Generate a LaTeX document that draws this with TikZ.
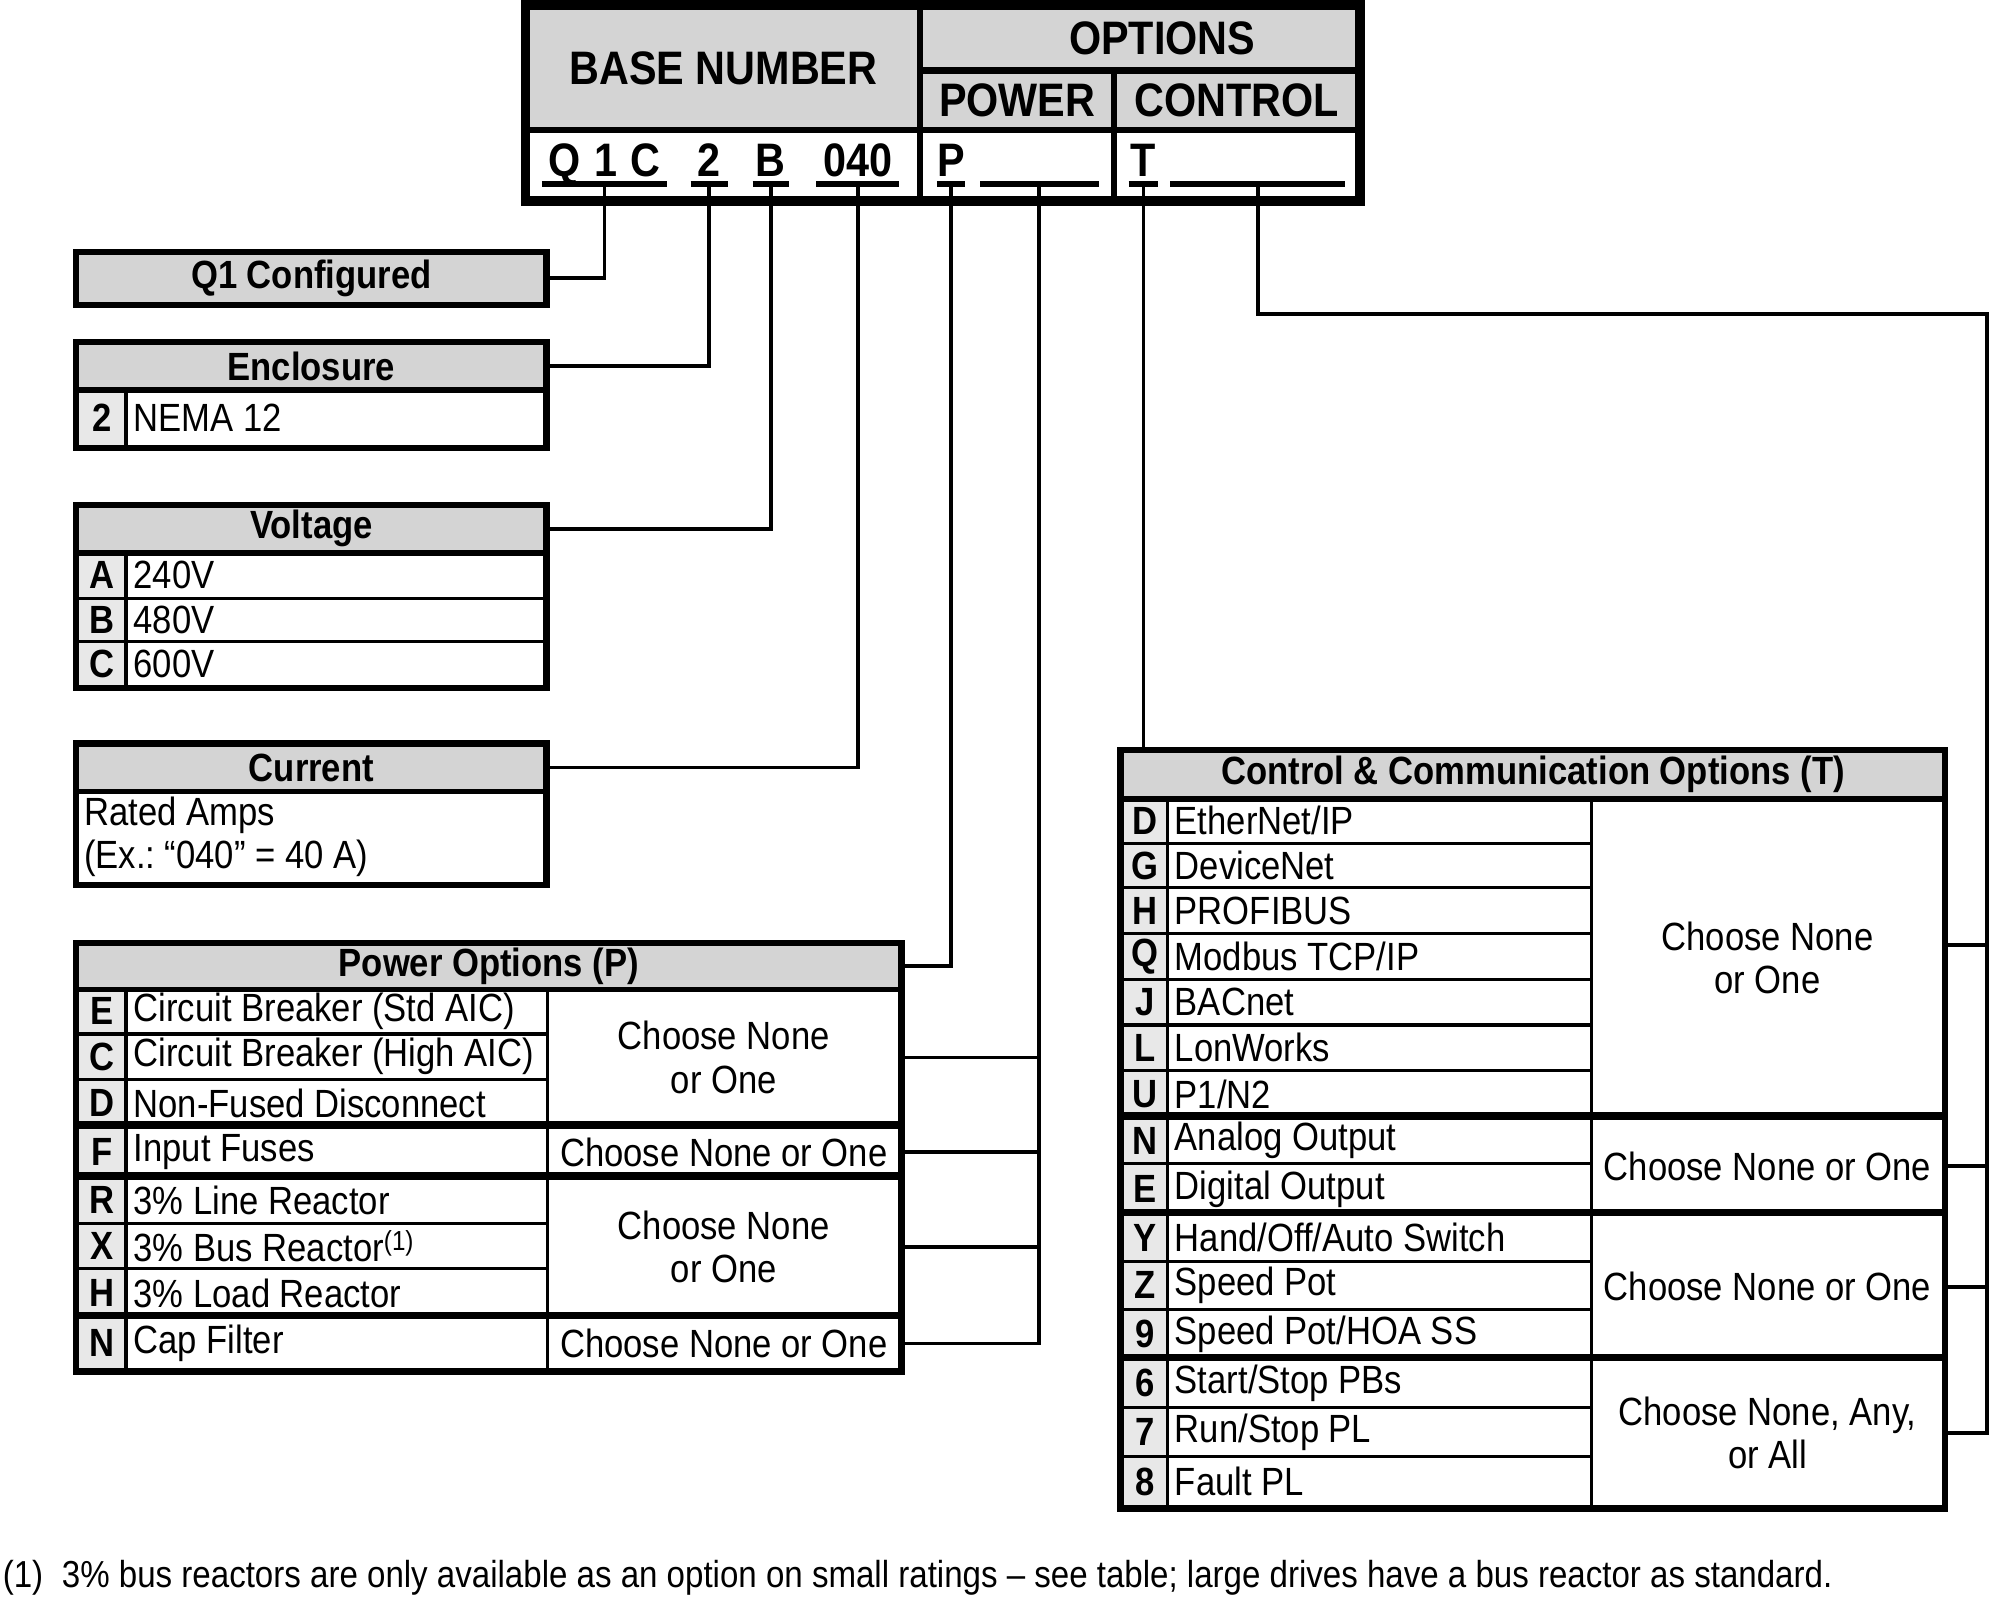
\documentclass[tikz,border=0pt]{standalone}
\usepackage{fontspec}
\setmainfont{Liberation Sans}[FakeStretch=0.88]
\definecolor{hdrgrey}{gray}{0.83}
\definecolor{keygrey}{gray}{0.91}
\newcommand{\txtfont}{\fontsize{31}{34}\selectfont}
\newcommand{\topfont}{\fontsize{37}{40}\selectfont\bfseries}
\newcommand{\notefont}{\fontsize{29.6}{32}\selectfont}

\begin{document}
\begin{tikzpicture}[x=1pt,y=-1pt]
  \tikzset{cell/.style = {draw,line width=2.5pt,inner sep=0pt,anchor=north west,font=\txtfont}}
  \tikzset{hdrcell/.style = {cell,fill=hdrgrey,font=\txtfont\bfseries}}
  \tikzset{keycell/.style = {cell,fill=keygrey,font=\txtfont\bfseries,minimum width=38pt}}
  \tikzset{desccell/.style = {cell,fill=white,text width=#1,align=left,inner xsep=6pt,
      execute at begin node={\frenchspacing\spaceskip=0pt\xspaceskip=0pt}}}
  \tikzset{choosecell/.style = {cell,fill=white,align=center,minimum width=277.5pt}}
  \tikzset{topcell/.style = {draw,line width=5pt,inner sep=0pt,anchor=north west,font=\topfont}}
  \tikzset{codetext/.style = {inner sep=0pt,anchor=base,font=\topfont}}
  \tikzset{outer/.style = {line width=5pt}}
  \tikzset{groupsep/.style = {line width=6pt}}
  \tikzset{hdrline/.style = {line width=4pt}}
  \tikzset{uline/.style = {line width=4.5pt}}
  \tikzset{wire/.style = {line width=3pt}}

  \fill[white] (0,0) rectangle (1568,1258);
  \useasboundingbox (0,0) rectangle (1568,1258);

  % model number header
  \node[topcell,fill=hdrgrey,minimum width=309.5pt,minimum height=97.5pt] (baseH) at (412.5,2.5) {BASE NUMBER};
  \node[topcell,fill=hdrgrey,minimum width=345.5pt,minimum height=50.5pt] (optH) at (722,2.5) {\hspace*{36pt}OPTIONS};
  \node[topcell,fill=hdrgrey,minimum width=153pt,minimum height=47pt] (powH) at (722,53) {POWER};
  \node[topcell,fill=hdrgrey,minimum width=192.5pt,minimum height=47pt] (ctrH) at (875,53) {CONTROL};
  \node[topcell,minimum width=309.5pt,minimum height=54.5pt] (baseC) at (412.5,100) {};
  \node[topcell,minimum width=153pt,minimum height=54.5pt] (powC) at (722,100) {};
  \node[topcell,minimum width=192.5pt,minimum height=54.5pt] (ctrC) at (875,100) {};
  \draw[outer] (baseH.north west) rectangle (ctrC.south east);

  \coordinate (ul) at (0,145);
  \node[codetext,minimum width=98pt] (cQ) at (476,139) {Q\hspace{11pt}1\hspace{10pt}C};
  \node[codetext,minimum width=29pt] (c2) at (558.5,139) {2};
  \node[codetext,minimum width=28pt] (cB) at (607,139) {B};
  \node[codetext,minimum width=65pt] (c040) at (675.5,139) {040};
  \node[codetext,minimum width=22pt] (cP) at (749,139) {P};
  \node[codetext,minimum width=23pt] (cT) at (900.5,139) {T};
  \node[inner sep=0pt,minimum width=93pt] (pBl) at (818.5,145) {};
  \node[inner sep=0pt,minimum width=137pt] (tBl) at (990.5,145) {};
  \foreach \c in {cQ,c2,cB,c040,cP,cT}
    \draw[uline] (\c.west |- ul) -- (\c.east |- ul);
  \foreach \c in {pBl,tBl}
    \draw[uline] (\c.west) -- (\c.east);

  % left column
  \node[hdrcell,minimum width=368pt,minimum height=39pt] (q1H) at (60,198.5) {Q1 Configured};
  \draw[outer] (q1H.north west) rectangle (q1H.south east);

  \node[hdrcell,minimum width=368pt,minimum height=35.5pt] (encH) at (60,269.5) {Enclosure};
  \node[keycell,minimum height=45.5pt] (ek2) at (60,305) {2};
  \node[desccell=318pt,minimum height=45.5pt] (ed2) at (98,305) {NEMA 12};
  \draw[outer] (encH.north west) rectangle (ed2.south east);

  \node[hdrcell,minimum width=368pt,minimum height=35.5pt] (volH) at (60,397.5) {Voltage};
  \foreach \k/\t/\y/\h in {A/240V/433/37, B/480V/470/34, C/600V/504/35.5}
  {
    \node[keycell,minimum height=\h pt] (vk\k) at (60,\y) {\k};
    \node[desccell=318pt,minimum height=\h pt] (vd\k) at (98,\y) {\t};
  }
  \draw[outer] (volH.north west) rectangle (vdC.south east);

  \node[hdrcell,minimum width=368pt,minimum height=35.5pt] (curH) at (60,585.5) {Current};
  \node[desccell=358pt,inner xsep=5pt,minimum height=73.5pt] (curB) at (60,621) {Rated Amps\\(Ex.: “040” = 40 A)};
  \draw[outer] (curH.north west) rectangle (curB.south east);

  % power options
  \node[hdrcell,minimum width=647.5pt,minimum height=34.5pt] (pwrH) at (60,742.5) {Power Options (P)};
  \foreach \k/\t/\y/\h in {E/Circuit Breaker (Std AIC)/777/36, C/Circuit Breaker (High AIC)/813/36,
      D/Non-Fused Disconnect/849/37, F/Input Fuses/886/40, R/3\% Line Reactor/926/36,
      X/3\% Bus Reactor\textsuperscript{(1)}/962/36, H/3\% Load Reactor/998/38, N/Cap Filter/1036/41.5}
  {
    \node[keycell,minimum height=\h pt] (pk\k) at (60,\y) {\k};
    \node[desccell=320pt,minimum height=\h pt] (pd\k) at (98,\y) {\t};
  }
  \node[choosecell,minimum height=109pt] (pch1) at (430,777) {Choose None\\or One};
  \node[choosecell,minimum height=40pt] (pch2) at (430,886) {Choose None or One};
  \node[choosecell,minimum height=110pt] (pch3) at (430,926) {Choose None\\or One};
  \node[choosecell,minimum height=41.5pt] (pch4) at (430,1036) {Choose None or One};
  \foreach \r/\n in {pkF/pch2, pkR/pch3, pkN/pch4}
    \draw[groupsep] (\r.north west) -- (\n.north east);
  \draw[outer] (pwrH.north west) rectangle (pch4.south east);

  % control options
  \node[hdrcell,minimum width=647pt,minimum height=36.5pt] (ctlH) at (882.5,590.5) {Control \& Communication Options (T)};
  \foreach \k/\t/\y/\h in {D/{EtherNet/IP}/627/36, G/DeviceNet/663/35, H/PROFIBUS/698/36,
      Q/{Modbus TCP/IP}/734/36, J/BACnet/770/36, L/LonWorks/806/36, U/{P1/N2}/842/37,
      N/Analog Output/879/36, E/Digital Output/915/40, Y/{Hand/Off/Auto Switch}/955/37,
      Z/Speed Pot/992/38, 9/{Speed Pot/HOA SS}/1030/39, 6/{Start/Stop PBs}/1069/38,
      7/{Run/Stop PL}/1107/39, 8/Fault PL/1146/39.5}
  {
    \node[keycell,minimum width=35.5pt,minimum height=\h pt] (ck\k) at (882.5,\y) {\k};
    \node[desccell=322pt,minimum height=\h pt] (cd\k) at (918,\y) {\t};
  }
  \node[choosecell,minimum height=252pt] (cch1) at (1252,627) {Choose None\\or One};
  \node[choosecell,minimum height=76pt] (cch2) at (1252,879) {Choose None or One};
  \node[choosecell,minimum height=114pt] (cch3) at (1252,955) {Choose None or One};
  \node[choosecell,minimum height=116.5pt] (cch4) at (1252,1069) {Choose None, Any,\\or All};
  \foreach \r/\n in {ckN/cch2, ckY/cch3, ck6/cch4}
    \draw[groupsep] (\r.north west) -- (\n.north east);
  \draw[outer] (ctlH.north west) rectangle (cch4.south east);

  \foreach \h in {encH,volH,curH,pwrH,ctlH}
    \draw[hdrline] (\h.south west) -- (\h.south east);

  % connectors
  \draw[wire] (cQ |- ul) |- (q1H.east);
  \draw[wire] (c2 |- ul) |- (encH.east);
  \draw[wire] (cB |- ul) |- (volH.east);
  \draw[wire] (c040 |- ul) |- (curH.east);
  \draw[wire] (cP |- ul) |- (pwrH.east);
  \draw[wire] (pBl) |- (pch4.east);
  \foreach \n in {pch1,pch2,pch3}
    \draw[wire] (\n.east) -- (\n.east -| pBl);
  \draw[wire] (cT |- ul) -- (cT |- ctlH.north);
  \coordinate (rail) at (1565,247);
  \coordinate[yshift=10pt] (br1) at (cch1.east);
  \draw[wire] (tBl) |- (rail) |- (cch4.east);
  \draw[wire] (br1) -- (br1 -| rail);
  \foreach \n in {cch2,cch3}
    \draw[wire] (\n.east) -- (\n.east -| rail);

  \node[anchor=base west,inner sep=0pt,font=\notefont] (note) at (2,1250)
    {(1)\enspace 3\% bus reactors are only available as an option on small ratings – see table; large drives have a bus reactor as standard.};
\end{tikzpicture}
\end{document}
